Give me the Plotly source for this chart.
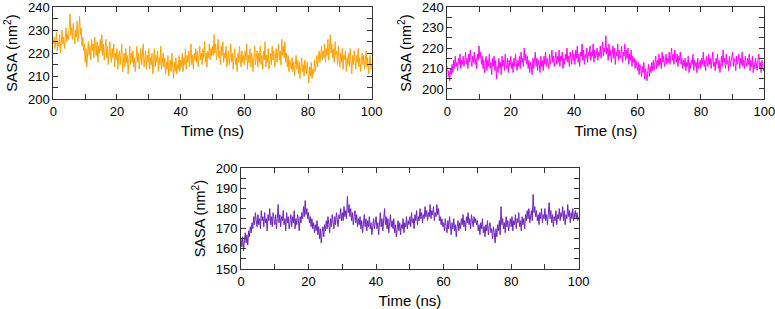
import numpy as np
import plotly.graph_objects as go

# time axis, 0.25 ns sampling
time_ns = np.arange(0, 100.25, 0.25)

sasa_orange = [
    224, 227, 222, 226, 229, 221, 225, 223, 228, 220, 226, 230, 224, 227, 222, 229, 231, 225, 228, 226,
    232, 237, 228, 231, 226, 233, 229, 224, 230, 227, 234, 225, 229, 236, 228, 231, 223, 227, 221, 224,
    216, 222, 214, 220, 225, 219, 223, 217, 226, 221, 224, 218, 227, 222, 219, 225, 216, 223, 220, 226,
    221, 228, 219, 224, 217, 222, 226, 218, 223, 215, 221, 225, 219, 216, 222, 218, 224, 214, 220, 217,
    222, 213, 218, 221, 215, 219, 224, 212, 217, 220, 214, 222, 216, 219, 211, 218, 223, 215, 220, 216,
    221, 214, 218, 212, 219, 223, 216, 220, 213, 218, 222, 215, 219, 224, 214, 217, 221, 213, 219, 216,
    222, 213, 218, 215, 220, 211, 217, 222, 214, 219, 216, 221, 212, 218, 215, 223, 213, 217, 220, 214,
    218, 211, 216, 213, 219, 210, 215, 217, 212, 220, 214, 209, 216, 212, 218, 211, 215, 213, 219, 212,
    217, 214, 220, 212, 218, 215, 222, 213, 219, 216, 221, 214, 218, 224, 215, 219, 213, 220, 217, 222,
    216, 221, 214, 219, 223, 217, 220, 215, 222, 218, 225, 216, 220, 214, 221, 218, 224, 217, 222, 219,
    223, 219, 228, 220, 224, 217, 222, 226, 218, 221, 215, 223, 219, 225, 216, 220, 218, 223, 214, 219,
    221, 215, 218, 224, 216, 220, 213, 219, 222, 215, 218, 212, 220, 216, 223, 217, 214, 221, 216, 219,
    215, 221, 217, 224, 213, 219, 216, 222, 214, 220, 218, 212, 219, 223, 215, 218, 221, 214, 220, 216,
    223, 215, 219, 213, 221, 217, 225, 214, 219, 216, 222, 213, 218, 220, 215, 223, 217, 221, 214, 219,
    222, 216, 220, 224, 217, 221, 215, 226, 219, 223, 218, 225, 216, 220, 214, 219, 212, 217, 215, 213,
    218, 212, 216, 210, 215, 219, 213, 217, 211, 216, 209, 214, 218, 212, 215, 210, 217, 213, 211, 216,
    212, 207, 214, 210, 216, 209, 213, 211, 217, 212, 215, 219, 214, 218, 221, 216, 220, 223, 217, 221,
    218, 224, 216, 222, 219, 226, 217, 221, 228, 220, 224, 218, 222, 216, 225, 219, 221, 215, 223, 218,
    214, 220, 216, 222, 213, 219, 217, 221, 212, 218, 215, 220, 214, 222, 216, 211, 219, 215, 221, 217,
    213, 219, 216, 222, 214, 218, 212, 217, 220, 215, 219, 213, 216, 221, 214, 218, 211, 216, 219, 213,
    215,
]

sasa_magenta = [
    211, 206, 209, 204, 210, 207, 212, 208, 214, 210, 216, 211, 213, 209, 215, 212, 217, 210, 214, 212,
    216, 211, 214, 218, 212, 215, 210, 217, 213, 219, 214, 211, 216, 213, 218, 212, 215, 210, 217, 214,
    221, 215, 218, 212, 216, 210, 214, 208, 213, 216, 209, 214, 211, 217, 210, 213, 207, 215, 211, 216,
    209, 214, 205, 211, 208, 215, 210, 213, 207, 216, 211, 214, 209, 217, 212, 210, 215, 208, 214, 211,
    216, 210, 213, 208, 215, 211, 217, 212, 209, 214, 211, 216, 210, 218, 213, 215, 211, 220, 214, 217,
    212, 216, 210, 214, 208, 213, 211, 207, 215, 210, 213, 218, 211, 215, 209, 214, 212, 208, 216, 211,
    214, 209, 216, 212, 218, 211, 215, 213, 210, 217, 212, 215, 219, 213, 216, 211, 214, 218, 212, 216,
    213, 219, 211, 216, 214, 218, 210, 215, 212, 217, 214, 220, 213, 216, 211, 218, 215, 212, 219, 214,
    217, 212, 219, 215, 221, 213, 217, 211, 218, 216, 222, 214, 219, 212, 217, 215, 220, 213, 218, 216,
    221, 214, 218, 216, 222, 213, 219, 215, 217, 220, 214, 218, 216, 221, 215, 219, 223, 216, 220, 218,
    226, 217, 220, 214, 222, 216, 219, 213, 218, 221, 215, 220, 212, 218, 216, 222, 214, 219, 215, 217,
    221, 213, 218, 216, 222, 214, 219, 215, 220, 212, 217, 214, 219, 211, 216, 213, 215, 210, 214, 212,
    209, 213, 207, 212, 210, 206, 211, 208, 213, 205, 210, 207, 204, 209, 212, 206, 211, 208, 213, 209,
    214, 209, 212, 216, 210, 214, 211, 217, 212, 215, 210, 218, 213, 216, 211, 214, 217, 212, 215, 213,
    218, 212, 216, 220, 214, 217, 212, 219, 215, 213, 217, 211, 216, 214, 218, 212, 215, 210, 214, 211,
    215, 209, 213, 211, 216, 208, 213, 210, 214, 212, 217, 209, 214, 211, 213, 208, 215, 210, 212, 214,
    210, 215, 212, 218, 211, 214, 209, 216, 213, 211, 217, 212, 215, 210, 214, 218, 211, 213, 209, 215,
    212, 217, 210, 214, 208, 213, 216, 211, 219, 213, 215, 210, 217, 212, 214, 209, 216, 211, 213, 215,
    218, 211, 215, 213, 209, 216, 212, 214, 217, 210, 215, 212, 218, 211, 214, 210, 216, 213, 211, 215,
    212, 217, 209, 214, 211, 216, 208, 213, 210, 215, 212, 209, 214, 217, 210, 213, 208, 214, 211, 209,
    211,
]

sasa_purple = [
    165, 161, 166, 159, 164, 168, 163, 167, 162, 169, 166, 171, 168, 173, 170, 176, 172, 178, 174, 171,
    177, 172, 175, 170, 179, 174, 176, 171, 178, 173, 175, 169, 177, 174, 180, 172, 176, 171, 178, 174,
    172, 177, 170, 175, 182, 173, 177, 171, 176, 174, 179, 172, 175, 169, 178, 173, 176, 170, 174, 177,
    171, 176, 173, 179, 170, 175, 172, 177, 174, 169, 176, 173, 178, 175, 181, 176, 184, 177, 180, 175,
    178, 173, 176, 171, 175, 170, 173, 168, 172, 169, 174, 167, 171, 165, 170, 163, 168, 171, 166, 172,
    169, 174, 170, 176, 172, 168, 175, 171, 177, 173, 170, 176, 172, 178, 174, 171, 177, 175, 180, 174,
    178, 174, 181, 176, 179, 175, 186, 178, 182, 176, 180, 174, 178, 172, 176, 179, 173, 177, 171, 175,
    172, 176, 170, 174, 168, 173, 177, 171, 175, 169, 174, 171, 176, 170, 173, 167, 172, 175, 170, 174,
    176, 170, 173, 167, 172, 178, 171, 175, 169, 174, 180, 172, 176, 170, 175, 168, 173, 177, 171, 174,
    170, 175, 168, 172, 166, 171, 174, 169, 173, 167, 172, 170, 175, 168, 173, 171, 176, 170, 174, 172,
    176, 171, 178, 173, 175, 170, 177, 174, 179, 172, 176, 174, 180, 175, 178, 173, 177, 175, 181, 176,
    179, 174, 178, 176, 182, 175, 179, 177, 181, 174, 178, 176, 182, 177, 180, 174, 176, 172, 175, 171,
    173, 169, 175, 171, 168, 174, 170, 176, 172, 167, 173, 170, 175, 169, 172, 166, 171, 174, 169, 173,
    170, 175, 172, 177, 171, 174, 169, 176, 173, 178, 172, 175, 170, 177, 174, 171, 176, 173, 175, 172,
    174, 169, 172, 167, 173, 170, 175, 168, 171, 166, 172, 169, 174, 167, 171, 173, 168, 170, 165, 171,
    168, 163, 170, 166, 172, 169, 174, 167, 181, 172, 175, 170, 173, 168, 176, 171, 174, 169, 172, 175,
    171, 176, 169, 174, 172, 177, 170, 175, 173, 178, 171, 174, 169, 176, 172, 175, 170, 177, 174, 179,
    175, 180, 173, 177, 179, 174, 187, 178, 181, 176, 179, 174, 177, 172, 178, 175, 180, 173, 177, 175,
    180, 174, 177, 172, 176, 183, 175, 179, 173, 177, 171, 176, 174, 179, 172, 177, 175, 180, 174, 178,
    176, 181, 174, 179, 172, 177, 175, 182, 176, 179, 173, 178, 175, 180, 174, 177, 179, 175, 178, 174,
    176,
]

x_ticks = [0, 20, 40, 60, 80, 100]

fig = go.Figure()
fig.add_trace(go.Scatter(x=time_ns, y=sasa_orange, mode="lines",
                         line=dict(color="#ffa000", width=1), xaxis="x", yaxis="y"))
fig.add_trace(go.Scatter(x=time_ns, y=sasa_magenta, mode="lines",
                         line=dict(color="#ff00ff", width=1), xaxis="x2", yaxis="y2"))
fig.add_trace(go.Scatter(x=time_ns, y=sasa_purple, mode="lines",
                         line=dict(color="#6d22bf", width=1), xaxis="x3", yaxis="y3"))

font = dict(family="Liberation Sans, Arial, sans-serif", size=13, color="black")


def xax(dom, anchor):
    return dict(domain=dom, anchor=anchor, range=[0, 100], tickvals=x_ticks,
                ticks="inside", ticklen=5, showline=True, linecolor="#333",
                linewidth=1, mirror="ticks", showgrid=False, zeroline=False,
                minor=dict(dtick=10, ticks="inside", ticklen=5, tickcolor="#333"),
                tickcolor="#333", tickfont=dict(size=13), automargin=False,
                ticklabeloverflow="allow",
                title=dict(text="Time (ns)", font=dict(size=15), standoff=7))


def yax(dom, anchor, rng, t0):
    return dict(domain=dom, anchor=anchor, range=rng, tick0=t0, dtick=10,
                ticks="inside", ticklen=5, showline=True, linecolor="#333",
                linewidth=1, mirror="ticks", showgrid=False, zeroline=False,
                minor=dict(dtick=5, ticks="inside", ticklen=5, tickcolor="#333"),
                tickcolor="#333", tickfont=dict(size=13), automargin=False,
                ticklabeloverflow="allow",
                title=dict(text="SASA (nm<sup>2</sup>)", font=dict(size=14.5), standoff=6))


top = [0.679, 0.977]
fig.update_layout(
    width=775, height=309,
    margin=dict(l=0, r=0, t=0, b=0),
    paper_bgcolor="white", plot_bgcolor="white",
    showlegend=False, font=font,
    xaxis=xax([0.0688, 0.4796], "y"),
    yaxis=yax(top, "x", [200, 240], 200),
    xaxis2=xax([0.5772, 0.9862], "y2"),
    yaxis2=yax(top, "x2", [195, 240], 200),
    xaxis3=xax([0.3110, 0.7467], "y3"),
    yaxis3=yax([0.1294, 0.4553], "x3", [150, 200], 150),
)

# drop the default page margin so the figure sits at the window's corner
fig.write_html("out.html", config={"displayModeBar": False},
               post_script="document.body.style.margin='0';")
